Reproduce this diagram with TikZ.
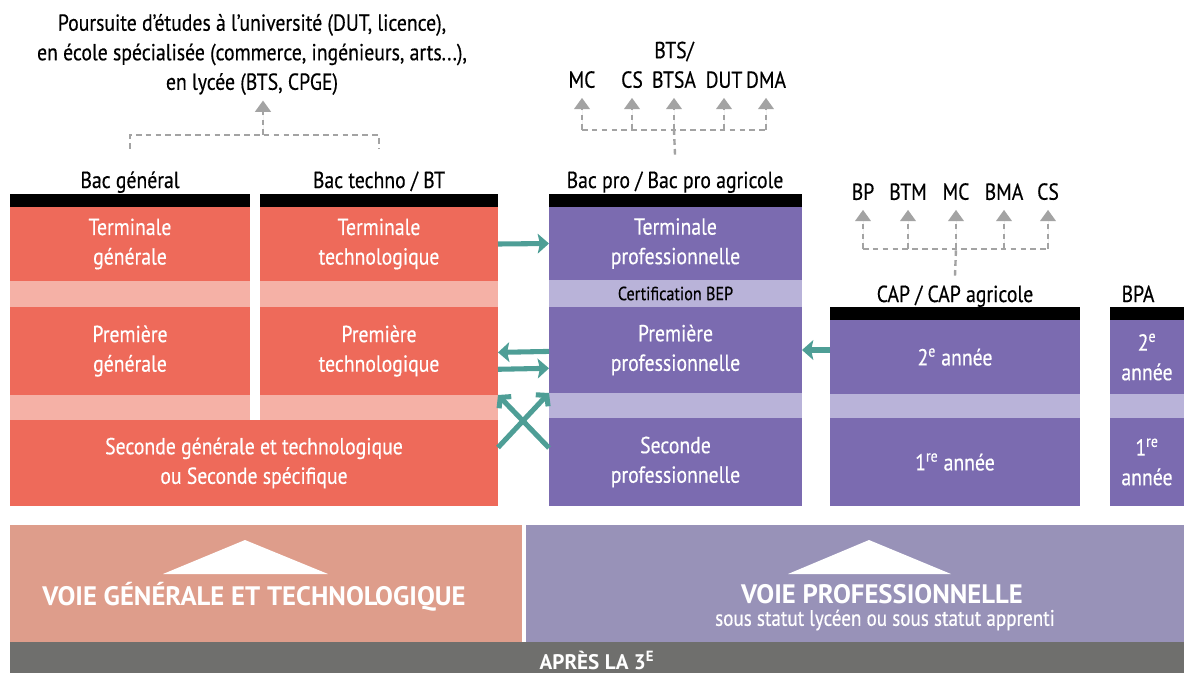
\documentclass[tikz,border=0pt]{standalone}
\usepackage{fontspec}
\setmainfont{PT Sans}[FakeStretch=0.85, FakeBold=0.4]
\newfontfamily\largefont{PT Sans}
\usetikzlibrary{arrows.meta}

\definecolor{rouge}{HTML}{EE6A5A}
\definecolor{rougeclair}{HTML}{F5B1A6}
\definecolor{violet}{HTML}{7B6BB0}
\definecolor{violetclair}{HTML}{B9B3D9}
\definecolor{saumon}{HTML}{DE9D8B}
\definecolor{lavande}{HTML}{9892B8}
\definecolor{grisfonce}{HTML}{6F6F6D}
\definecolor{grispointille}{HTML}{A3A3A3}
\definecolor{canard}{HTML}{4E9E96}

\newlength\pxl
\setlength\pxl{0.025cm}

\begin{document}
\begin{tikzpicture}[
  x=0.025cm, y=-0.025cm,
  every node/.style={inner sep=0pt, outer sep=0pt, font=\fontsize{16.5}{21}\selectfont},
  taille/.style 2 args={minimum width=#1*\pxl, minimum height=#2*\pxl}
]
\tikzstyle{bloc}=[anchor=north west, text=white, align=center]
\tikzstyle{bande}=[anchor=north west]
\tikzstyle{barre}=[anchor=north west, fill=black]
\tikzstyle{etiq}=[anchor=south]
\tikzstyle{entete}=[anchor=base]
\tikzstyle{titre}=[text=white, font=\largefont\bfseries\fontsize{19}{22}\selectfont]
\tikzstyle{pointille}=[draw=grispointille, line width=1.7pt, dash pattern=on 4pt off 3pt]
\tikzstyle{fleche}=[-{Triangle[length=8pt,width=11pt]}, fill=grispointille]
\tikzstyle{passerelle}=[draw=canard, line width=3.6pt, -{Stealth[length=8pt,width=14pt,inset=1.5pt]}]
\tikzstyle{croise}=[draw=canard, line width=3.6pt, -{Straight Barb[length=5pt,width=12pt]}]

\useasboundingbox (0,0) rectangle (1184,673);

% voie generale et techno
\node[barre, taille={240}{13}] (barg) at (10,194) {};
\node[bloc, fill=rouge, taille={240}{74}] (tg) at (10,207) {Terminale\\générale};
\node[bande, fill=rougeclair, taille={240}{26}] (bg1) at (10,281) {};
\node[bloc, fill=rouge, taille={240}{88}] (pg) at (10,307) {Première\\générale};
\node[bande, fill=rougeclair, taille={240}{25}] (bg2) at (10,395) {};

\node[barre, taille={238}{13}] (bart) at (260,194) {};
\node[bloc, fill=rouge, taille={238}{74}] (tt) at (260,207) {Terminale\\technologique};
\node[bande, fill=rougeclair, taille={238}{26}] (bt1) at (260,281) {};
\node[bloc, fill=rouge, taille={238}{88}] (pt) at (260,307) {Première\\technologique};
\node[bande, fill=rougeclair, taille={238}{25}] (bt2) at (260,395) {};
\node[bloc, fill=rouge, taille={488}{86}] (sgt) at (10,420) {Seconde générale et technologique\\ou Seconde spécifique};

% voie pro
\node[barre, taille={253}{13}] (barp) at (549,194) {};
\node[bloc, fill=violet, taille={253}{73}] (tp) at (549,207) {Terminale\\professionnelle};
\node[bande, fill=violetclair, taille={253}{27}, font=\fontsize{13.5}{15}\selectfont] (cert) at (549,280) {Certification BEP};
\node[bloc, fill=violet, taille={253}{86}] (pp) at (549,307) {Première\\professionnelle};
\node[bande, fill=violetclair, taille={253}{25}] (bp1) at (549,393) {};
\node[bloc, fill=violet, taille={253}{88}] (sp) at (549,418) {Seconde\\professionnelle};

\node[barre, taille={250}{13}] (barc) at (830,307) {};
\node[bloc, fill=violet, taille={250}{74}] (cap2) at (830,320) {2\textsuperscript{e} année};
\node[bande, fill=violetclair, taille={250}{24}] (bc1) at (830,394) {};
\node[bloc, fill=violet, taille={250}{88}] (cap1) at (830,418) {1\textsuperscript{re} année};

\node[barre, taille={74}{13}] (barb) at (1110,307) {};
\node[bloc, fill=violet, taille={74}{74}] (bpa2) at (1110,320) {2\textsuperscript{e}\\année};
\node[bande, fill=violetclair, taille={74}{24}] (bb1) at (1110,394) {};
\node[bloc, fill=violet, taille={74}{88}] (bpa1) at (1110,418) {1\textsuperscript{re}\\année};

% en-tetes
\node[entete] (hg) at (130,188) {Bac général};
\node[entete] (ht) at (379,188) {Bac techno / BT};
\node[entete] (hp) at (675,188) {Bac pro / Bac pro agricole};
\node[entete] (hc) at (955,302) {CAP / CAP agricole};
\node[entete] (hb) at (1138,302) {BPA};

\node[anchor=north, align=center] (pours) at (252,14) {Poursuite d’études à l’université (DUT, licence),\\en école spécialisée (commerce, ingénieurs, arts...),\\en lycée (BTS, CPGE)};

\node[etiq] (pMC) at (582,88) {MC};
\node[etiq] (pCS) at (632,88) {CS};
\node[etiq, align=center] (pBTS) at (674,88) {BTS/\\BTSA};
\node[etiq] (pDUT) at (724,88) {DUT};
\node[etiq] (pDMA) at (766,88) {DMA};

\node[etiq] (cBP) at (863,200) {BP};
\node[etiq] (cBTM) at (908,200) {BTM};
\node[etiq] (cMC) at (956,200) {MC};
\node[etiq] (cBMA) at (1004,200) {BMA};
\node[etiq] (cCS) at (1048,200) {CS};

% suites d'etudes
\coordinate (jg) at (263,135);
\coordinate (jp) at (674,130);
\coordinate (jc) at (956,249);

\draw[pointille] ([yshift=16pt]hg.north) |- (jg) -| ([yshift=16pt]ht.north);
\draw[pointille, fleche, shorten >=4pt] (jg) -- (jg |- pours.south);

\draw[pointille] ([yshift=12pt]hp.north) -- (jp);
\draw[pointille] (pMC |- jp) -- (pDMA |- jp);
\foreach \n in {pMC,pCS,pBTS,pDUT,pDMA}
  \draw[pointille, fleche, shorten >=7pt] (\n |- jp) -- (\n.south);

\draw[pointille] ([yshift=7pt]hc.north) -- (jc);
\draw[pointille] (cBP |- jc) -- (cCS |- jc);
\foreach \n in {cBP,cBTM,cMC,cBMA,cCS}
  \draw[pointille, fleche, shorten >=7pt] (\n |- jc) -- (\n.south);

% passerelles
\draw[passerelle] (tt.east) -- (tp.west);
\draw[passerelle] ([yshift=-1pt]pp.west) -- ([yshift=-1pt]pt.east);
\draw[passerelle] ([yshift=-13pt]pt.east) -- ([yshift=-13pt]pp.west);
\draw[croise] ([yshift=11pt]sgt.east) -- (bp1.north west);
\draw[croise] ([yshift=10pt]sp.west) -- (bt2.north east);
\draw[passerelle] (pp.east -| cap2.west) -- (pp.east);

% bandeau du bas
\node[bande, fill=saumon, taille={512}{117}] (vgt) at (10,525) {};
\node[bande, fill=lavande, taille={658}{117}] (vpro) at (526,525) {};
\node[bande, fill=grisfonce, taille={1174}{31}] (apres) at (10,642) {};
\fill[white] (163,574) -- (245,540) -- (328,574) -- cycle;
\fill[white] (788,574) -- (869,540) -- (951,574) -- cycle;
\node[titre] (tvgt) at (254,597) {VOIE GÉNÉRALE ET TECHNOLOGIQUE};
\node[titre] (tvpro) at (882,594) {VOIE PROFESSIONNELLE};
\node[text=white, font=\fontsize{16}{18}\selectfont] (statut) at (885,620) {sous statut lycéen ou sous statut apprenti};
\node[titre, font=\largefont\bfseries\fontsize{15}{17}\selectfont] (tapres) at (597,660) {APRÈS LA 3\textsuperscript{E}};
\end{tikzpicture}
\end{document}
